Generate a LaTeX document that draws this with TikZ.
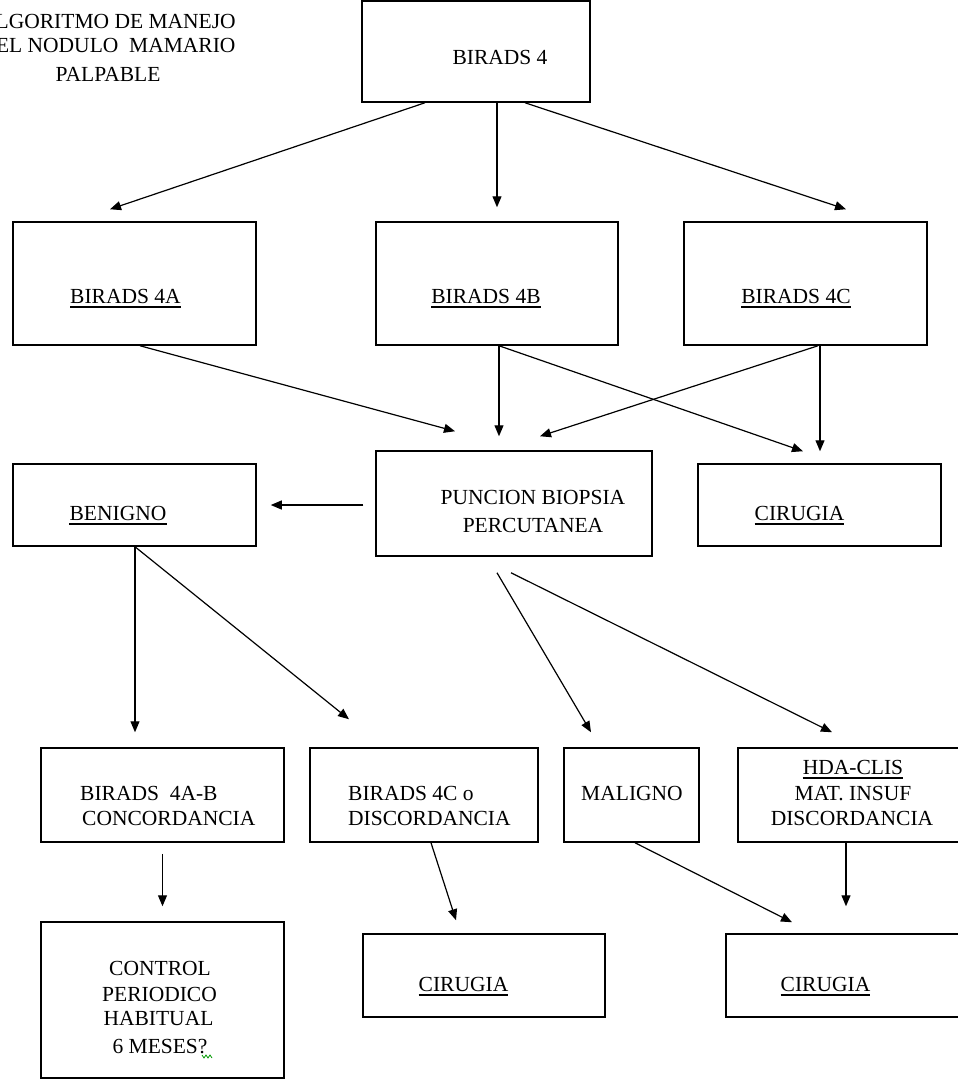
\documentclass[tikz,border=0pt]{standalone}
\usepackage{fontspec}
\setmainfont{Liberation Serif}
\usetikzlibrary{arrows.meta}
\newcommand\ulnode[1]{\draw[ulstyle] ([yshift=-4pt]#1.base west) -- ([yshift=-4pt]#1.base east);}
\begin{document}
\begin{tikzpicture}[x=1pt,y=-1pt,
  box/.style 2 args={draw=black, line width=1.5pt, minimum width=#1pt, minimum height=#2pt, inner sep=0pt},
  lbl/.style={inner sep=0pt, anchor=base, font=\fontsize{21.5}{26}\selectfont},
  ulstyle/.style={line width=1.2pt},
  arr/.style={line width=1.2pt, -{Triangle[length=11pt,width=9pt]}}]
\useasboundingbox (0,0) rectangle (958,1080);
\clip (0,0) rectangle (958,1080);
\fill[white] (0,0) rectangle (958,1080);
% boxes
\node[box={228}{101}] (b4) at (476,51.5) {};
\node[box={243}{123}] (b4a) at (134.5,283.5) {};
\node[box={242}{123}] (b4b) at (497,283.5) {};
\node[box={243}{123}] (b4c) at (805.5,283.5) {};
\node[box={276}{105}] (punc) at (514,503.5) {};
\node[box={243}{82}] (ben) at (134.5,505) {};
\node[box={243}{82}] (cir1) at (819.5,505) {};
\node[box={243}{94}] (cab) at (162.5,795) {};
\node[box={228}{94}] (c4o) at (424,795) {};
\node[box={135}{94}] (mal) at (631.5,795) {};
\node[box={230}{94}] (hda) at (853,795) {};
\node[box={243}{156}] (ctrl) at (162.5,1000) {};
\node[box={242}{83}] (cir2) at (484,975.5) {};
\node[box={242}{83}] (cir3) at (847,975.5) {};
% labels
\node[lbl] (t0a) at (108,28) {ALGORITMO DE MANEJO};
\node[lbl] (t0b) at (108,52) {DEL NODULO\ \ MAMARIO};
\node[lbl] (t0c) at (108,81) {PALPABLE};
\node[lbl] (t4) at (500,64) {BIRADS 4};
\node[lbl] (t4a) at (125.5,303) {BIRADS 4A}; \ulnode{t4a}
\node[lbl] (t4b) at (486,303) {BIRADS 4B}; \ulnode{t4b}
\node[lbl] (t4c) at (796,303) {BIRADS 4C}; \ulnode{t4c}
\node[lbl] (tp1) at (533,504) {PUNCION BIOPSIA};
\node[lbl] (tp2) at (533,532) {PERCUTANEA};
\node[lbl] (tben) at (118,520) {BENIGNO}; \ulnode{tben}
\node[lbl] (tc1) at (799.5,520) {CIRUGIA}; \ulnode{tc1}
\node[lbl, anchor=base west] (tab1) at (80,800) {BIRADS\ \ 4A-B};
\node[lbl, anchor=base west] (tab2) at (82,825) {CONCORDANCIA};
\node[lbl, anchor=base west] (t4o1) at (348,800) {BIRADS 4C o};
\node[lbl, anchor=base west] (t4o2) at (348,825) {DISCORDANCIA};
\node[lbl] (tmal) at (632,800) {MALIGNO};
\node[lbl] (th1) at (853,774) {HDA-CLIS}; \ulnode{th1}
\node[lbl] (th2) at (853,800) {MAT. INSUF};
\node[lbl] (th3) at (852,825) {DISCORDANCIA};
\node[lbl] (tct1) at (160,975) {CONTROL};
\node[lbl] (tct2) at (159.5,1001) {PERIODICO};
\node[lbl] (tct3) at (158.5,1025) {HABITUAL};
\node[lbl] (tct4) at (160,1053) {6 MESES?};
\draw[green!60!black, line width=0.8pt] (202,1055) -- (204,1058) -- (206,1055) -- (208,1058) -- (210,1055) -- (212,1058);
\node[lbl] (tc2) at (463.5,991) {CIRUGIA}; \ulnode{tc2}
\node[lbl] (tc3) at (825.5,991) {CIRUGIA}; \ulnode{tc3}
% connectors
\draw[arr] ([xshift=-51pt]b4.south) -- ([xshift=-24.5pt,yshift=12pt]b4a.north);
\draw[arr] ([xshift=21pt]b4.south) -- ([yshift=14pt]b4b.north);
\draw[arr] ([xshift=49pt]b4.south) -- ([xshift=40.5pt,yshift=12pt]b4c.north);
\draw[arr] ([xshift=5.5pt]b4a.south) -- ([xshift=-59pt,yshift=19pt]punc.north);
\draw[arr] ([xshift=2pt]b4b.south) -- ([xshift=-15pt,yshift=14pt]punc.north);
\draw[arr] ([xshift=2pt]b4b.south) -- ([xshift=-16.5pt,yshift=12pt]cir1.north);
\draw[arr] ([xshift=12.5pt]b4c.south) -- ([xshift=26pt,yshift=14pt]punc.north);
\draw[arr] ([xshift=14.5pt]b4c.south) -- ([xshift=0.5pt,yshift=12pt]cir1.north);
\draw[arr] ([xshift=-12pt,yshift=-1.5pt]punc.west) -- ([xshift=14pt]ben.east);
\draw[arr] ([xshift=0.5pt]ben.south) -- ([xshift=-27.5pt,yshift=15pt]cab.north);
\draw[arr] ([xshift=0.5pt]ben.south) -- ([xshift=-75pt,yshift=28pt]c4o.north);
\draw[arr] ([xshift=-17pt,yshift=-16pt]punc.south) -- ([xshift=-40.5pt,yshift=15pt]mal.north);
\draw[arr] ([xshift=-3pt,yshift=-16pt]punc.south) -- ([xshift=-21pt,yshift=15pt]hda.north);
\draw[arr] ([yshift=-11pt]cab.south) -- ([yshift=15pt]ctrl.north);
\draw[arr] ([xshift=7pt]c4o.south) -- ([xshift=-28pt,yshift=13pt]cir2.north);
\draw[arr] ([xshift=3.5pt]mal.south) -- ([xshift=-55pt,yshift=11pt]cir3.north);
\draw[arr] ([xshift=-7pt]hda.south) -- ([xshift=-1pt,yshift=27pt]cir3.north);
\end{tikzpicture}
\end{document}
